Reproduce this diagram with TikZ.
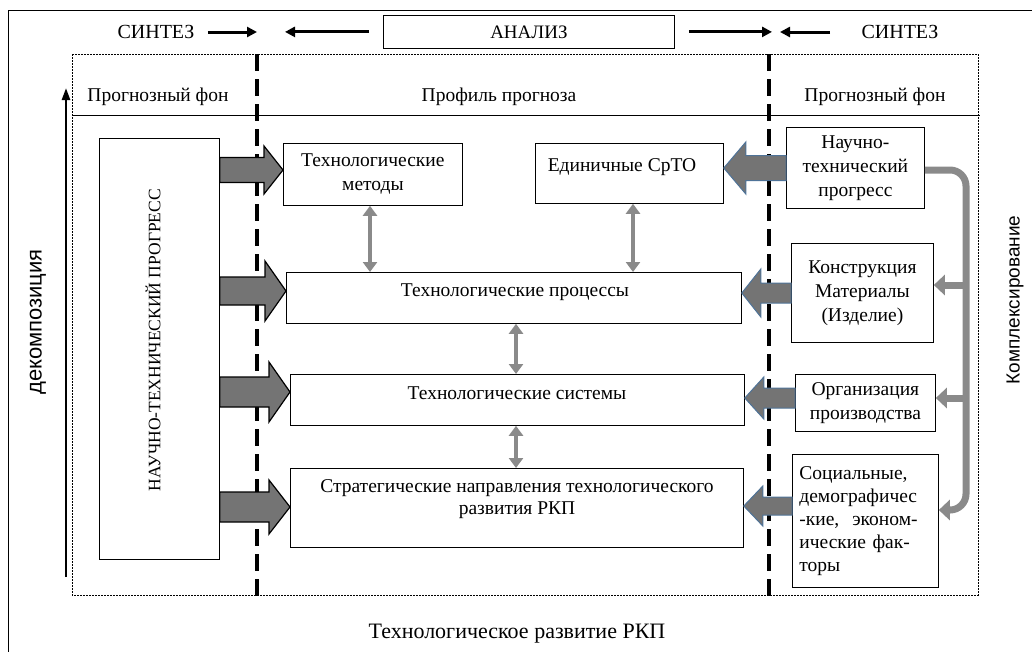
\documentclass[tikz,border=0pt]{standalone}
\usepackage{fontspec}
\setmainfont{Liberation Serif}
\newfontfamily\labelsans{Liberation Sans}
\usetikzlibrary{arrows.meta,calc}

% horizontal block arrow: style, tail anchor, tip anchor, level, head length (signed), shaft half, head half
\newcommand\blockarrow[7]{%
  \filldraw[#1] let \p1=(#2), \p2=(#3), \p3=(0,#4) in
    (\x1,{\y3+#6pt}) -- ({\x2-(#5pt)},{\y3+#6pt}) -- ({\x2-(#5pt)},{\y3+#7pt}) -- (\x2,\y3)
    -- ({\x2-(#5pt)},{\y3-#7pt}) -- ({\x2-(#5pt)},{\y3-#6pt}) -- (\x1,{\y3-#6pt}) -- cycle;}

\definecolor{fatgray}{HTML}{747474}
\definecolor{linkgray}{HTML}{8A8A8A}
\definecolor{bluerim}{HTML}{4F7398}

\begin{document}
\begin{tikzpicture}[x=1pt,y=-1pt,
  frame/.style={draw, line width=0.8pt},
  box/.style={frame, inner sep=2pt, align=center, font=\fontsize{19.5}{24}\selectfont},
  txt/.style={align=center, font=\fontsize{19.5}{22}\selectfont},
  head/.style={font=\fontsize{19.5}{22}\selectfont},
  syn/.style={font=\fontsize{20}{22}\selectfont},
  divider/.style={line width=4pt, dash pattern=on 17pt off 8pt},
  flowin/.style={fill=fatgray, draw=black, line width=1.2pt, line join=miter},
  flowout/.style={fill=fatgray, draw=bluerim, line width=1pt, line join=miter},
  link/.style={draw=linkgray, line width=4pt, {Triangle[length=10pt,width=14pt]}-{Triangle[length=10pt,width=14pt]}},
  gather/.style={draw=linkgray, line width=7pt},
  gatherarrow/.style={gather, -{Triangle[length=11pt,width=20pt]}},
  move/.style={line width=3pt, -{Triangle[length=10pt,width=10pt]}}
]
\useasboundingbox (0,0) rectangle (1032,651);
\begin{scope}
\clip (0,0) rectangle (1032,651);
\draw[line width=0.9pt] (8,660) -- (8,10) -- (1040,10);
\end{scope}

% header row
\node[syn] (synL) at (156,32) {СИНТЕЗ};
\node[syn] (synR) at (900,32) {СИНТЕЗ};
\node[frame, minimum width=291pt, minimum height=33pt, anchor=north west,
      font=\fontsize{19}{22}\selectfont] (an) at (383,15) {АНАЛИЗ};
\coordinate (dlTop) at (257,54);
\coordinate (dlBot) at (257,601);
\coordinate (drTop) at (769,54);
\coordinate (drBot) at (769,601);
\draw[move] (synL.east) ++(10,0) coordinate (s1) -- (dlTop |- s1);
\draw[move] (an.west) ++(-14,0) coordinate (s2) -- ([xshift=28pt]dlTop |- s2);
\draw[move] (an.east) ++(14,0) coordinate (s3) -- ([xshift=3pt]drTop |- s3);
\draw[move] (synR.west) ++(-28,0) coordinate (s4) -- ([xshift=11pt]drTop |- s4);

% working area
\draw[line width=0.6pt, dash pattern=on 2pt off 1pt] (72,54) rectangle (978,595);
\draw[line width=0.8pt] (72,115) -- (980,115);
\node[head] (hL) at (158,97) {Прогнозный фон};
\node[head] (hM) at (499,97) {Профиль прогноза};
\node[head] (hR) at (875,97) {Прогнозный фон};
\draw[divider] (dlTop) -- (dlBot);
\draw[divider] (drTop) -- (drBot);

% side labels
\coordinate (decBot) at (66,577);
\coordinate (decTop) at (66,88);
\draw[line width=2.5pt, -{Triangle[length=12pt,width=8pt]}] (decBot) -- (decTop);
\node[rotate=90, font=\labelsans\fontsize{22}{24}\selectfont] (dec) at (38,322) {декомпозиция};
\node[rotate=90, font=\labelsans\fontsize{19}{22}\selectfont] (kom) at (1015,300) {Комплексирование};

% left column
\node[frame, minimum width=120pt, minimum height=421pt, anchor=north west] (ntp) at (99,138) {};
\node[rotate=90, font=\fontsize{17.5}{20}\selectfont] (ntpT) at (153,340) {НАУЧНО-ТЕХНИЧЕСКИЙ ПРОГРЕСС};

% forecast profile
\node[box, minimum width=179pt, minimum height=62pt, anchor=north west] (tm) at (283,143) {Технологические\\методы};
\node[frame, minimum width=188pt, minimum height=60pt, anchor=north west] (ed) at (535,143) {};
\node[txt] (edT) at (622,167) {Единичные СрТО};
\node[frame, minimum width=455pt, minimum height=51pt, anchor=north west] (tp) at (286,272) {};
\node[txt] (tpT) at (515,292) {Технологические процессы};
\node[frame, minimum width=454pt, minimum height=51pt, anchor=north west] (ts) at (290,374) {};
\node[txt] (tsT) at (517,393) {Технологические системы};
\node[frame, minimum width=453pt, minimum height=79pt, anchor=north west] (sn) at (290,468) {};
\node[txt] (snT) at (517,499) {Стратегические направления технологического\\развития РКП};

% right column
\node[box, minimum width=138pt, minimum height=81pt, anchor=north west] (nt) at (786,127) {Научно-\\технический\\прогресс};
\node[box, minimum width=142pt, minimum height=99pt, anchor=north west] (kon) at (791,243) {Конструкция\\Материалы\\(Изделие)};
\node[box, minimum width=140pt, minimum height=57pt, anchor=north west] (org) at (795,374) {Организация\\производства};
\node[box, font=\fontsize{19.5}{23}\selectfont, minimum width=146pt, minimum height=133pt, anchor=north west, align=left, text width=132pt] (soc) at (792,454) {Социальные,\\демографичес\\-кие,\ \ эконом-\\ические фак-\\торы};

% inflow from the left
\blockarrow{flowin}{ntp.east}{tm.west}{170}{19}{12.5}{24}
\blockarrow{flowin}{ntp.east}{tp.west}{291}{21}{14}{30}
\blockarrow{flowin}{ntp.east}{ts.west}{392}{21}{15}{30}
\blockarrow{flowin}{ntp.east}{sn.west}{507}{21}{15}{27}

% inflow from the right
\blockarrow{flowout}{nt.west}{ed.east}{168}{-22}{12.5}{26}
\blockarrow{flowout}{kon.west}{tp.east}{293}{-19}{10}{24}
\blockarrow{flowout}{org.west}{ts.east}{398}{-19}{10}{21}
\blockarrow{flowout}{soc.west}{sn.east}{506}{-19}{9}{20}

% links between levels
\draw[link] (370,0 |- tm.south) -- (370,0 |- tp.north);
\draw[link] (633,0 |- ed.south) -- (633,0 |- tp.north);
\draw[link] (516,0 |- tp.south) -- (516,0 |- ts.north);
\draw[link] (516,0 |- ts.south) -- (516,0 |- sn.north);

% integration bracket
\coordinate (gTop) at (966,170);
\coordinate (gBot) at (966,510);
\draw[gatherarrow, rounded corners=16pt] (nt.east |- gTop) -- (gTop) -- (gBot) -- (soc.east |- gBot);
\draw[gatherarrow] (966,285) -- (kon.east |- 0,285);
\draw[gatherarrow] (966,398) -- (org.east |- 0,398);

\node[font=\fontsize{22}{26}\selectfont] (title) at (517,634) {Технологическое развитие РКП};
\end{tikzpicture}
\end{document}
